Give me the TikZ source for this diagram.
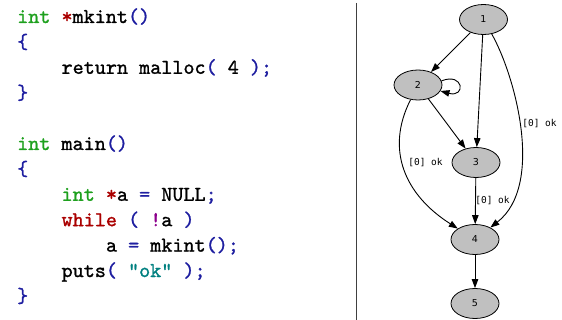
\documentclass[tikz,border=0pt]{standalone}
\usepackage{fontspec}
\usetikzlibrary{shapes.geometric,arrows.meta}
\newfontfamily\graphfont{DejaVu Sans}
\newfontfamily\graphmono{DejaVu Sans Mono}
\newfontfamily\codefont{lmmono10-regular.otf}[FakeBold=1.2]
\definecolor{kwgreen}{RGB}{30,160,30}
\definecolor{kwred}{RGB}{170,0,0}
\definecolor{kwblue}{RGB}{30,30,160}
\definecolor{kwpurple}{RGB}{140,0,140}
\definecolor{kwteal}{RGB}{0,128,128}
\definecolor{nodegray}{RGB}{192,192,192}
\newcommand{\cG}[1]{\textcolor{kwgreen}{#1}}
\newcommand{\cR}[1]{\textcolor{kwred}{#1}}
\newcommand{\cB}[1]{\textcolor{kwblue}{#1}}
\newcommand{\cP}[1]{\textcolor{kwpurple}{#1}}
\newcommand{\cT}[1]{\textcolor{kwteal}{#1}}
\begin{document}
\begin{tikzpicture}[x=1pt,y=-1pt,
  codeline/.style={anchor=base west,inner sep=0pt,font=\fontsize{21.1}{21.1}\codefont},
  gnode/.style={ellipse,draw=black,line width=0.8pt,fill=nodegray,minimum width=48pt,minimum height=30pt,inner sep=0pt,font=\fontsize{9.5}{9.5}\selectfont\graphfont},
  gedge/.style={draw=black,line width=0.9pt,-{Triangle[length=9pt,width=6.5pt]}},
  elabel/.style={inner sep=0pt,font=\fontsize{9.5}{9.5}\selectfont\graphmono}
]
\path[use as bounding box] (0,0) rectangle (562,320);
% code
\node[codeline] (l0) at (17,23) {\cG{int} \cR{*}mkint\cB{()}};
\node[codeline] (l1) at (17,48.4) {\cB{\{}};
\node[codeline] (l2) at (61.4,73.8) {return malloc\cB{(} 4 \cB{);}};
\node[codeline] (l3) at (17,99.2) {\cB{\}}};
\node[codeline] (l5) at (17,150) {\cG{int} main\cB{()}};
\node[codeline] (l6) at (17,175.4) {\cB{\{}};
\node[codeline] (l7) at (61.4,200.8) {\cG{int} \cR{*}a \cB{=} NULL\cB{;}};
\node[codeline] (l8) at (61.4,226.2) {\cR{while} \cB{(} \cP{!}a \cB{)}};
\node[codeline] (l9) at (105.8,251.6) {a \cB{=} mkint\cB{();}};
\node[codeline] (l10) at (61.4,277) {puts\cB{(} \cT{"ok"} \cB{);}};
\node[codeline] (l11) at (17,302.4) {\cB{\}}};
% divider
\coordinate (dtop) at (356,3);
\coordinate (dbot) at (356,320);
\draw[line width=1pt,color=black!75] (dtop) -- (dbot);
% graph
\node[gnode] (n1) at (483.5,19.5) {1};
\node[gnode] (n2) at (418,85) {2};
\node[gnode] (n3) at (476,162.5) {3};
\node[gnode] (n4) at (475,239.5) {4};
\node[gnode] (n5) at (475,303.5) {5};
\draw[gedge] (n1) -- (n2);
\draw[gedge] (n1) -- (n3);
\draw[gedge] (n2) -- (n3);
\draw[gedge] (n3) -- (n4);
\draw[gedge] (n4) -- (n5);
\draw[gedge] (n1) .. controls (515,75) and (545,185) .. (n4);
\draw[gedge] (n2) .. controls (385,150) and (405,195) .. (n4);
\draw[gedge] (n2.10) .. controls (464,72) and (466,98) .. (n2.-15);
\node[elabel] (lab1) at (539.5,124) {[0] ok};
\node[elabel] (lab2) at (425.5,162.7) {[0] ok};
\node[elabel] (lab3) at (492.5,200.7) {[0] ok};
\end{tikzpicture}
\end{document}
